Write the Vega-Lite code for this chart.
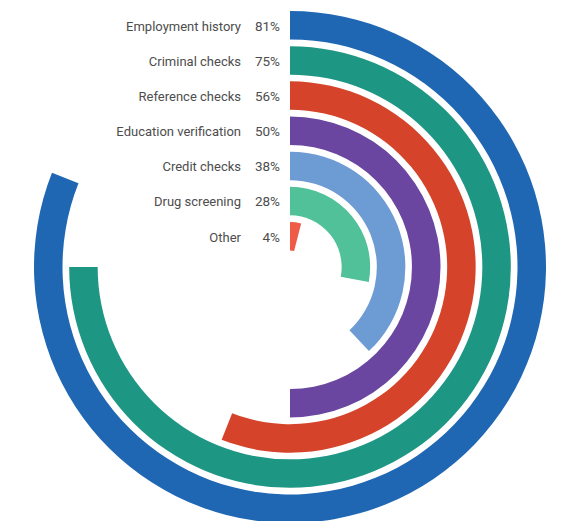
{
  "$schema": "https://vega.github.io/schema/vega-lite/v6.json",
  "width": 542,
  "height": 508,
  "autosize": {"type": "none"},
  "padding": {"left": 19, "top": 13, "right": 0, "bottom": 0},
  "background": "white",
  "config": {"view": {"stroke": null}},
  "data": {
    "values": [
      {"category": "Employment history", "share": 0.81},
      {"category": "Criminal checks", "share": 0.75},
      {"category": "Reference checks", "share": 0.56},
      {"category": "Education verification", "share": 0.50},
      {"category": "Credit checks", "share": 0.38},
      {"category": "Drug screening", "share": 0.28},
      {"category": "Other", "share": 0.04}
    ]
  },
  "encoding": {
    "radius": {
      "field": "category",
      "type": "ordinal",
      "scale": {
        "type": "point",
        "padding": 0,
        "domain": ["Other", "Drug screening", "Credit checks", "Education verification", "Reference checks", "Criminal checks", "Employment history"],
        "range": [45, 256]
      },
      "legend": null
    }
  },
  "layer": [
    {
      "mark": {"type": "arc", "radius2Offset": -28.5},
      "encoding": {
        "theta": {"field": "share", "type": "quantitative", "stack": null, "scale": {"domain": [0, 1], "range": [0, 6.283185307]}},
        "theta2": {"datum": 0},
        "radius2": {"field": "category"},
        "color": {
          "field": "category",
          "type": "nominal",
          "scale": {
            "domain": ["Employment history", "Criminal checks", "Reference checks", "Education verification", "Credit checks", "Drug screening", "Other"],
            "range": ["#1f67b3", "#1e9684", "#d5432a", "#6a46a0", "#6d9bd4", "#50c198", "#ee5b47"]
          },
          "legend": null
        }
      }
    },
    {
      "mark": {"type": "text", "radiusOffset": -15.5, "dx": -10, "align": "right", "baseline": "middle", "font": "Roboto", "fontSize": 13.5, "color": "#4d4d4d"},
      "encoding": {
        "theta": {"datum": 0},
        "text": {"field": "share", "type": "quantitative", "format": ".0%"}
      }
    },
    {
      "mark": {"type": "text", "radiusOffset": -15.5, "dx": -49, "align": "right", "baseline": "middle", "font": "Roboto", "fontSize": 13, "color": "#4d4d4d"},
      "encoding": {
        "theta": {"datum": 0},
        "text": {"field": "category", "type": "nominal"}
      }
    }
  ]
}
